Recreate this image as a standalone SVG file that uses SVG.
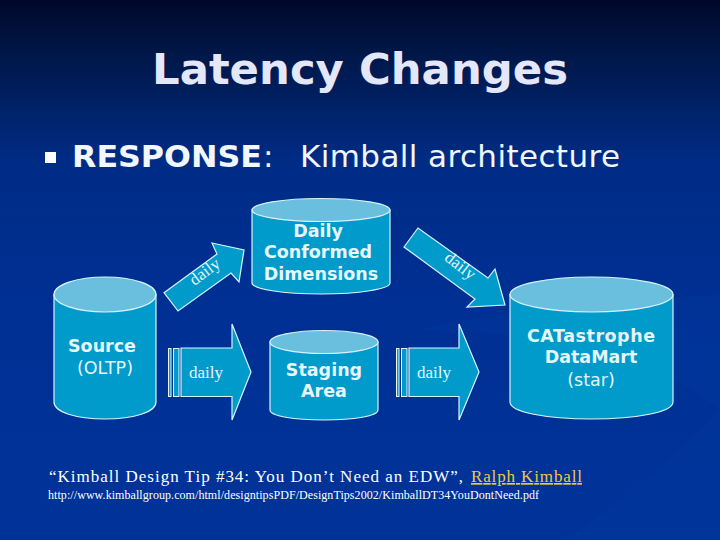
<svg xmlns="http://www.w3.org/2000/svg" width="720" height="540" viewBox="0 0 720 540">
<style>
.body{fill:#009acb;stroke:#d8f4fb;stroke-width:1.2}
.top{fill:#6abfde;stroke:#d8f4fb;stroke-width:1.2}
.arrow{fill:#009acb;stroke:#d8f4fb;stroke-width:1.2}
.bar{fill:#009acb;stroke:#e8f8fc;stroke-width:1}
.lb{font-family:"DejaVu Sans",sans-serif;font-weight:bold;font-size:17.5px;fill:#e6f6fb;text-anchor:middle}
.ln{font-family:"DejaVu Sans",sans-serif;font-size:17.5px;fill:#e6f6fb;text-anchor:middle}
.d{font-family:"Liberation Serif",serif;font-size:17px;fill:#e6f6fb;text-anchor:middle}
.c{font-family:"Liberation Serif",serif;fill:#fff}
.h{font-family:"DejaVu Sans",sans-serif;font-size:31px;fill:#f2f6ff}
</style>
<defs>
<linearGradient id="bg" x1="0" y1="0" x2="0" y2="1">
<stop offset="0" stop-color="#00082a"/>
<stop offset="0.1" stop-color="#001748"/>
<stop offset="0.3" stop-color="#002c85"/>
<stop offset="0.5" stop-color="#002f92"/>
<stop offset="1" stop-color="#003399"/>
</linearGradient>
</defs>
<rect id="background" width="720" height="540" fill="url(#bg)"/>
<path d="M415 330C520 305 640 300 720 295V540H560C620 510 690 440 720 410C640 345 500 330 415 330Z" fill="#003a9e" opacity="0.3"/>
<text x="152" y="84" font-family="DejaVu Sans, sans-serif" font-weight="bold" font-size="43" fill="#e4e6fa" textLength="416" lengthAdjust="spacingAndGlyphs">Latency Changes</text>
<rect x="45" y="152" width="11" height="11" fill="#fff"/>
<text class="h" x="72" y="167" font-weight="bold" textLength="190" lengthAdjust="spacingAndGlyphs">RESPONSE</text>
<text class="h" x="263" y="167">:</text>
<text class="h" x="300" y="167" textLength="320">Kimball architecture</text>
<g id="connectors">
<g id="arrow-source-daily">
<path class="arrow" d="M164 292.700L217 254L212 243L244 250L239 282L231 273L178 311Z"/>
<text class="d" transform="translate(208 276) rotate(-37)">daily</text>
</g>
<g id="arrow-daily-catastrophe">
<path class="arrow" d="M418 228L404 247L475 299L467 307L505 305L495 269L488 278Z"/>
<text class="d" transform="translate(457 270) rotate(38)">daily</text>
</g>
<g id="arrow-source-staging">
<rect class="bar" x="168.500" y="348.500" width="2.500" height="48"/>
<rect class="bar" x="173.500" y="348.500" width="5.500" height="48"/>
<path class="arrow" d="M181 348H232V324L251 372L232 420V396.500H181Z"/>
<text class="d" x="206" y="378">daily</text>
</g>
<g id="arrow-staging-catastrophe">
<rect class="bar" x="396.500" y="348.500" width="2.500" height="48"/>
<rect class="bar" x="401.500" y="348.500" width="5.500" height="48"/>
<path class="arrow" d="M409 348H459V324L479 372L459 420V396.500H409Z"/>
<text class="d" x="434" y="378">daily</text>
</g>
</g>
<g id="node-source">
<path class="body" d="M54 294.500V402C54 412 76 419 105 419S156 412 156 402V294.500Z"/>
<ellipse class="top" cx="105" cy="294.500" rx="51" ry="17.500"/>
<text class="lb" x="102" y="352">Source</text>
<text class="ln" x="105" y="374">(OLTP)</text>
</g>
<g id="node-conformed">
<path class="body" d="M252 210V283C252 289 283 294 321 294S390 289 390 283V210Z"/>
<ellipse class="top" cx="321" cy="210" rx="69" ry="11.500"/>
<text class="lb" x="318" y="237">Daily</text>
<text class="lb" x="318" y="258">Conformed</text>
<text class="lb" x="321" y="280">Dimensions</text>
</g>
<g id="node-staging">
<path class="body" d="M270 342V410C270 416 294 420 324 420S378 416 378 410V342Z"/>
<ellipse class="top" cx="324" cy="342" rx="54" ry="11.500"/>
<text class="lb" x="324" y="376">Staging</text>
<text class="lb" x="324" y="397">Area</text>
</g>
<g id="node-catastrophe">
<path class="body" d="M510 294.500V402C510 412 546 419 591.500 419S673 412 673 402V294.500Z"/>
<ellipse class="top" cx="591.500" cy="294.500" rx="81.500" ry="17.500"/>
<text class="lb" x="591" y="342" textLength="128">CATastrophe</text>
<text class="lb" x="591" y="363">DataMart</text>
<text class="ln" x="591" y="386">(star)</text>
</g>
<text class="c" x="49" y="482" font-size="17" textLength="414">“Kimball Design Tip #34: You Don’t Need an EDW”,</text>
<text x="471" y="482" font-family="Liberation Serif, serif" font-size="17" fill="#f0c840" text-decoration="underline" textLength="111">Ralph Kimball</text>
<text class="c" x="48" y="499" font-size="12" textLength="491">http://www.kimballgroup.com/html/designtipsPDF/DesignTips2002/KimballDT34YouDontNeed.pdf</text>
</svg>
